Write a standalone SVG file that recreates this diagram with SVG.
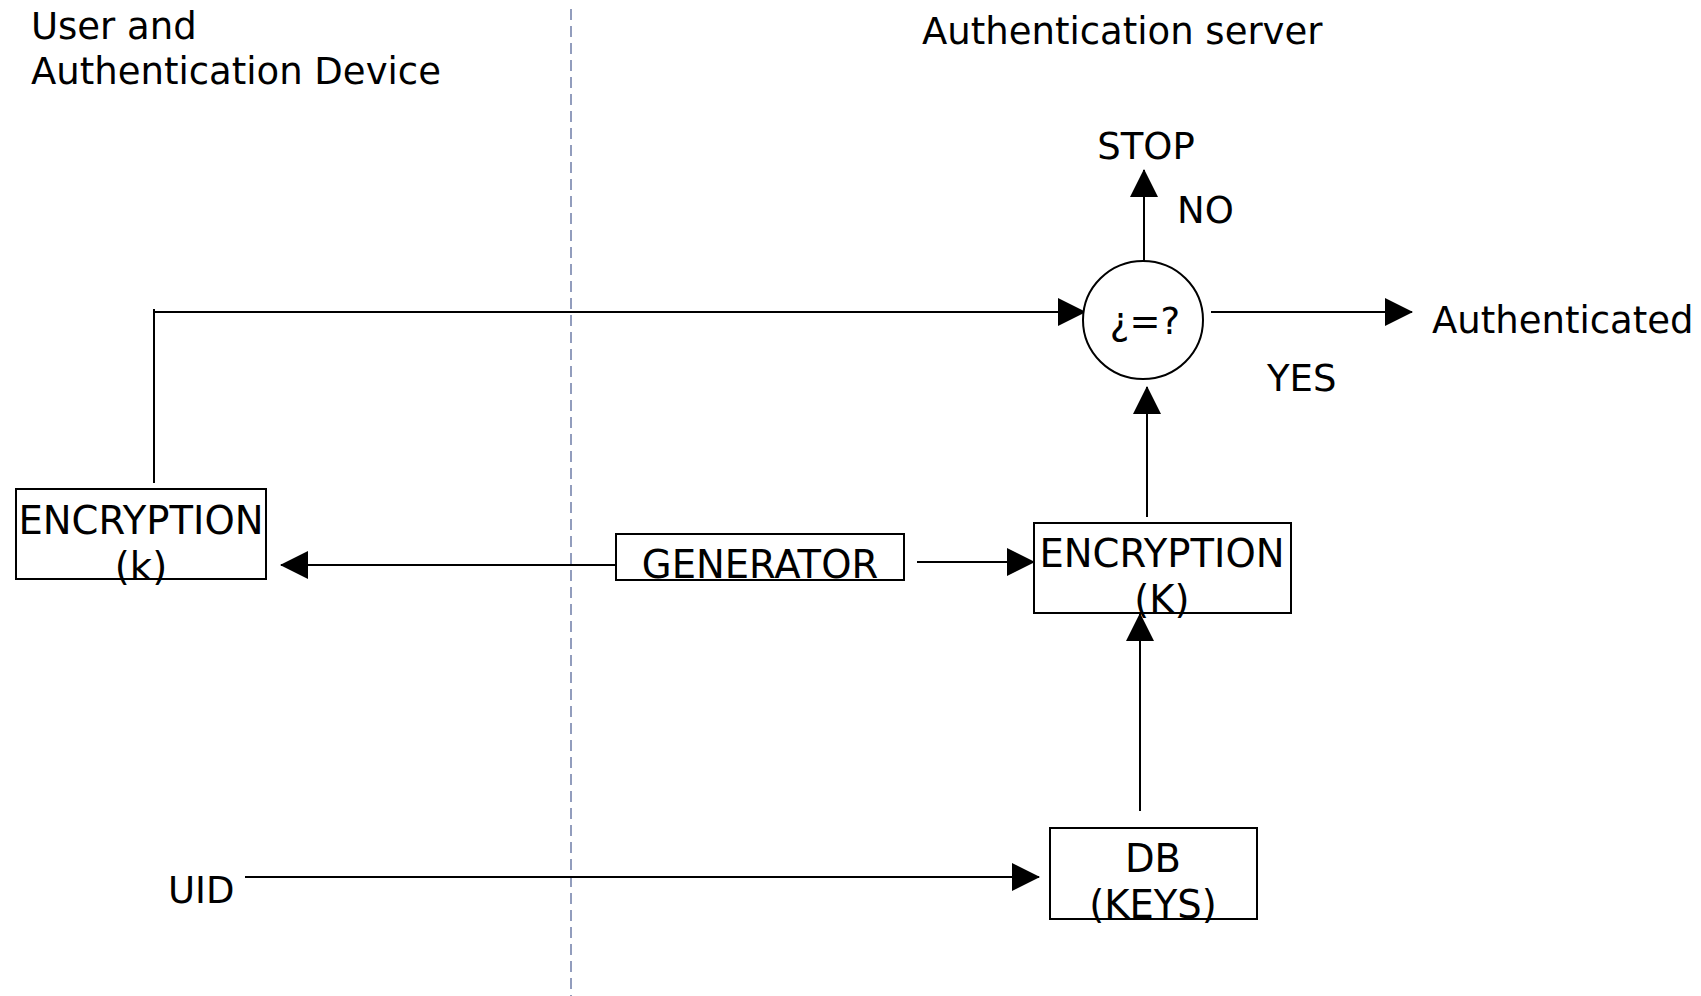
<svg xmlns="http://www.w3.org/2000/svg" width="1701" height="996" viewBox="0 0 1701 996">
<style>
text{font-family:"DejaVu Sans","Liberation Sans",sans-serif;font-size:37px;fill:#000}
.bt{font-size:38.5px}
.box{fill:#fff;stroke:#000;stroke-width:2}
.ln{fill:none;stroke:#000;stroke-width:2}
.mid{text-anchor:middle}
</style>
<defs>
<marker id="ah" markerUnits="userSpaceOnUse" markerWidth="30" markerHeight="30" refX="27" refY="15" orient="auto">
<path d="M0,1 L28,15 L0,29 Z" fill="#000"/>
</marker>
</defs>
<rect width="1701" height="996" fill="#fff"/>
<g id="lanes">
<line x1="571" y1="9" x2="571" y2="996" stroke="#6f7ea8" stroke-width="1.5" stroke-dasharray="11,6"/>
<text x="31" y="39">User and</text>
<text x="31" y="84">Authentication Device</text>
<text x="922" y="44">Authentication server</text>
</g>
<g id="connectors">
<line class="ln" x1="154" y1="483" x2="154" y2="309"/>
<line class="ln" x1="155" y1="312" x2="1085" y2="312" marker-end="url(#ah)"/>
<line class="ln" x1="1144" y1="261" x2="1144" y2="170" marker-end="url(#ah)"/>
<line class="ln" x1="1211" y1="312" x2="1412" y2="312" marker-end="url(#ah)"/>
<line class="ln" x1="1147" y1="517" x2="1147" y2="387" marker-end="url(#ah)"/>
<line class="ln" x1="618" y1="565" x2="281" y2="565" marker-end="url(#ah)"/>
<line class="ln" x1="917" y1="562" x2="1034" y2="562" marker-end="url(#ah)"/>
<line class="ln" x1="1140" y1="811" x2="1140" y2="614" marker-end="url(#ah)"/>
<line class="ln" x1="245" y1="877" x2="1039" y2="877" marker-end="url(#ah)"/>
<text x="1177" y="223">NO</text>
<text x="1267" y="391">YES</text>
</g>
<g id="compare">
<ellipse class="box" cx="1143" cy="320" rx="60" ry="59"/>
<text class="mid" x="1145" y="334">¿=?</text>
</g>
<g id="stop"><text class="mid" x="1146" y="159">STOP</text></g>
<g id="authenticated"><text x="1432" y="333">Authenticated</text></g>
<g id="enc-user">
<rect class="box" x="16" y="489" width="250" height="90"/>
<text class="mid bt" x="141" y="534">ENCRYPTION</text>
<text class="mid bt" x="141" y="580">(k)</text>
</g>
<g id="generator">
<rect class="box" x="616" y="534" width="288" height="46"/>
<text class="mid bt" x="760" y="578">GENERATOR</text>
</g>
<g id="enc-server">
<rect class="box" x="1034" y="523" width="257" height="90"/>
<text class="mid bt" x="1162" y="567">ENCRYPTION</text>
<text class="mid bt" x="1162" y="613">(K)</text>
</g>
<g id="db">
<rect class="box" x="1050" y="828" width="207" height="91"/>
<text class="mid bt" x="1153" y="872">DB</text>
<text class="mid bt" x="1153" y="918">(KEYS)</text>
</g>
<g id="uid"><text x="168" y="903">UID</text></g>
</svg>
